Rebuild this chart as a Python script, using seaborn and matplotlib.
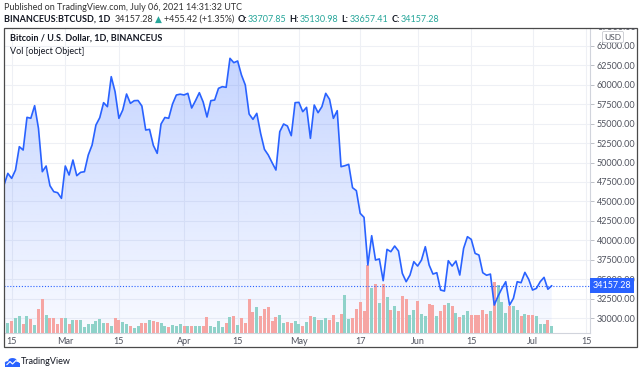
import numpy as np
import pandas as pd
import matplotlib
matplotlib.use("Agg")
import matplotlib.pyplot as plt
import matplotlib.dates as mdates
import matplotlib.transforms as mtransforms
from matplotlib.colors import to_rgb
from matplotlib.patches import Rectangle, Circle, Polygon
import seaborn as sns

# -----------------------------
# Data (daily close, BINANCEUS:BTCUSD)
# -----------------------------
start_date = "2021-02-13"

close_feb = [47110, 48612, 47968, 49041, 52044, 51615, 55819, 55700, 57321, 54404,
             48826, 49556, 47025, 46253, 46124, 45395]
close_mar = [49556, 48398, 50328, 48312, 48741, 48826, 50972, 52259, 54833, 55776,
             57707, 57192, 61053, 59122, 55690, 56763, 58822, 57621, 57964, 57990,
             57278, 54189, 54275, 52200, 51186, 54962, 55800, 55700, 57536, 58694,
             58800]
close_apr = [58700, 58908, 57021, 57964, 58994, 57793, 55862, 57964, 58050, 59552,
             59766, 59681, 63412, 62855, 63069, 61268, 59981, 56248, 55562, 56334,
             53760, 51701, 50972, 49985, 49041, 53975, 54962, 54704, 53459, 57707]
close_may = [57750, 56549, 57106, 53117, 57407, 56420, 57192, 58908, 58136, 55690,
             56677, 49470, 49599, 49771, 46768, 46382, 43464, 42949, 36815, 40590,
             37458, 37600, 34798, 38831, 38531, 39260, 38617, 35742, 34670, 35528,
             37244]
close_jun = [36686, 37458, 39174, 36815, 35656, 35828, 33597, 33468, 37372, 36686,
             37330, 35528, 38960, 40461, 40118, 38316, 38102, 35828, 35500, 35650,
             31666, 32825, 33811, 34670, 31666, 32525, 34670, 34541, 35871, 34970]
close_jul = [33597, 33811, 34670, 35227, 33702, 34157.28]

# daily volume (BTC)
volume = [230, 300, 350, 450, 500, 280, 520, 420, 250, 720,
          1020, 540, 460, 460, 280, 460, 450, 280, 400, 380,
          380, 190, 260, 280, 350, 420, 300, 300, 220, 450,
          400, 330, 270, 220, 160, 200, 300, 300, 380, 350,
          320, 300, 220, 170, 240, 220, 280, 200, 200, 220,
          200, 200, 200, 480, 200, 190, 360, 170, 290, 470,
          520, 250, 440, 290, 1040, 620, 770, 500, 720, 790,
          350, 480, 550, 300, 320, 290, 370, 270, 220, 320,
          520, 480, 390, 390, 440, 400, 550, 320, 560, 1140,
          410, 450, 730, 950, 650, 2050, 1350, 1480, 920, 1480,
          1080, 700, 820, 670, 1130, 1020, 550, 680, 970, 570,
          500, 870, 830, 520, 670, 840, 900, 820, 600, 480,
          540, 670, 550, 550, 550, 680, 580, 650, 1550, 1450,
          950, 600, 800, 820, 680, 500, 570, 530, 530, 500,
          280, 270, 380, 200]

last_close = 34157.28

tick_dates = ["2021-02-15", "2021-03-01", "2021-03-15", "2021-04-01", "2021-04-15",
              "2021-05-01", "2021-05-17", "2021-06-01", "2021-06-15", "2021-07-01",
              "2021-07-15"]
tick_labels = ["15", "Mar", "15", "Apr", "15", "May", "17", "Jun", "15", "Jul", "15"]
price_ticks = list(range(30000, 65001, 2500))

close = close_feb + close_mar + close_apr + close_may + close_jun + close_jul
dates = pd.date_range(start_date, periods=len(close), freq="D")

df = pd.DataFrame({"date": mdates.date2num(dates), "close": close, "volume": volume})
df["dir"] = np.where(df["close"].diff().fillna(-1) >= 0, "up", "down")

# -----------------------------
# Style
# -----------------------------
sns.set_theme(style="white")
plt.rcParams["font.family"] = ["Lato", "DejaVu Sans"]

BLUE = "#2962ff"
TEAL = "#26a69a"
TXT = "#131722"
AXTXT = "#50535e"

W, H = 640, 372
fig = plt.figure(figsize=(6.4, 3.72), dpi=100)


def fx(x):
    return x / W


def fy(y):
    return 1 - y / H


ax = fig.add_axes([fx(4), fy(333), fx(590) - fx(4), fy(28) - fy(333)])
axv = ax.twinx()
axl = ax.twinx()

x0 = mdates.date2num(pd.Timestamp("2021-02-13"))
x1 = mdates.date2num(pd.Timestamp("2021-07-16"))
ylo, yhi = 28070, 67316

# gradient area under the price line
grad = np.zeros((256, 1, 4))
grad[:, 0, :3] = to_rgb(BLUE)
grad[:, 0, 3] = np.linspace(0.27, 0.03, 256)
im = ax.imshow(grad, aspect="auto", origin="upper", zorder=1,
               extent=[df["date"].min(), df["date"].max(), ylo, df["close"].max()])
poly = ax.fill_between(df["date"], df["close"], ylo, facecolor="none", edgecolor="none")
im.set_clip_path(poly.get_paths()[0], transform=ax.transData)

# volume bars
sns.barplot(data=df, x="date", y="volume", hue="dir", native_scale=True, dodge=False,
            palette={"up": "#8fd2c9", "down": "#f6a5a3"}, saturation=1, errorbar=None,
            width=0.78, legend=False, edgecolor="none", linewidth=0, ax=axv)

# price line
sns.lineplot(data=df, x="date", y="close", color=BLUE, lw=1.2, estimator=None, ax=axl)
axl.axhline(last_close, color=BLUE, lw=0.8, ls=(0, (1, 1.6)))

for a in (ax, axv, axl):
    a.set_xlim(x0, x1)
    a.set_xlabel("")
    a.set_ylabel("")
for a in (ax, axl):
    a.set_ylim(ylo, yhi)
axv.set_ylim(0, 9200)

for a in (axv, axl):
    a.set_yticks([])
    for s in a.spines.values():
        s.set_visible(False)

ax.yaxis.tick_right()
ax.set_yticks(price_ticks)
ax.set_yticklabels([f"{v:.2f}" for v in price_ticks])
ax.set_xticks(mdates.date2num(pd.to_datetime(tick_dates)))
ax.set_xticklabels(tick_labels)
ax.tick_params(axis="y", right=True, length=3, width=0.6, color="#b2b5be",
               labelsize=6.5, labelcolor=AXTXT, pad=2)
ax.tick_params(axis="x", length=0, labelsize=6.5, labelcolor=AXTXT, pad=3)
ax.grid(True, color="#eef0f5", lw=0.8)
ax.set_axisbelow(True)
for side in ("left", "top"):
    ax.spines[side].set_visible(False)
for side in ("right", "bottom"):
    ax.spines[side].set_color("#d1d4dc")
    ax.spines[side].set_linewidth(0.8)

# last price label on the scale
trans = mtransforms.blended_transform_factory(ax.transAxes, ax.transData)
ax.text(1.004, last_close, f"{last_close:.2f}", transform=trans, ha="left", va="center",
        fontsize=6.5, color="white", clip_on=False, zorder=10,
        bbox=dict(boxstyle="square,pad=0.3", fc=BLUE, ec="none"))

# clipped 67500 label and USD badge
t67 = fig.text(fx(597), fy(27), "67500.00", fontsize=6.5, color=AXTXT, va="center")
t67.set_clip_box(mtransforms.Bbox([[590, 0], [640, H - 28]]))
t67.set_clip_on(True)
fig.text(fx(613), fy(37), "USD", fontsize=6, color=AXTXT, ha="center", va="center",
         bbox=dict(boxstyle="round,pad=0.25,rounding_size=0.2", fc="white", ec="#c8cad0", lw=0.6))

# outer frame
fig.patches.append(Rectangle((fx(4), fy(347)), fx(637) - fx(4), fy(28) - fy(347),
                             transform=fig.transFigure, fill=False, ec="#4a4a4a", lw=0.9))

# header
fig.text(fx(4), fy(7), "Published on TradingView.com, July 06, 2021 14:31:32 UTC",
         fontsize=6.5, color="#333333", va="center")

header_parts = [
    ("BINANCEUS:BTCUSD, 1D", "bold", TXT, 4),
    ("34157.28", "normal", "#333333", 2),
    ("\u25B2", "normal", TEAL, 2),
    ("+455.42 (+1.35%)", "normal", "#333333", 3),
    ("O:", "bold", TXT, 1),
    ("33707.85", "normal", TEAL, 3),
    ("H:", "bold", TXT, 1),
    ("35130.98", "normal", TEAL, 3),
    ("L:", "bold", TXT, 1),
    ("33657.41", "normal", TEAL, 3),
    ("C:", "bold", TXT, 1),
    ("34157.28", "normal", TEAL, 0),
]
renderer = fig.canvas.get_renderer()
xpos = 4
for txt, weight, color, gap in header_parts:
    t = fig.text(fx(xpos), fy(19), txt, fontsize=6.5, fontweight=weight, color=color,
                 va="center", ha="left")
    xpos += t.get_window_extent(renderer).width + gap

# legend texts inside the chart
fig.text(fx(10), fy(38), "Bitcoin / U.S. Dollar, 1D, BINANCEUS", fontsize=6.5,
         fontweight="bold", color=TXT, va="center")
fig.text(fx(10), fy(52), "Vol [object Object]", fontsize=6.5, color=TXT, va="center")

# TradingView logo
for cx, cy, r in [(8, 363, 3.2), (12.5, 360.5, 4.2), (16.5, 363.5, 3.0)]:
    fig.patches.append(Circle((fx(cx), fy(cy)), r / W, transform=fig.transFigure,
                              fc=BLUE, ec="none"))
fig.patches.append(Rectangle((fx(5), fy(367)), fx(14.5), fy(363) - fy(367),
                             transform=fig.transFigure, fc=BLUE, ec="none"))
fig.patches.append(Polygon([(fx(6.5), fy(365)), (fx(10), fy(361.5)), (fx(12.5), fy(364)),
                            (fx(16.5), fy(360))], closed=False, fill=False, ec="white",
                           lw=0.8, transform=fig.transFigure))
fig.text(fx(21), fy(362), "TradingView", fontsize=6.5, color=TXT, va="center")

fig.savefig("out.png", dpi=100)
